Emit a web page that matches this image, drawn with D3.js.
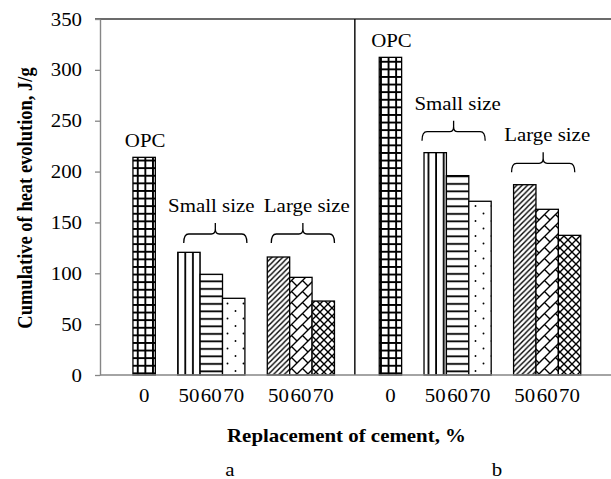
<!DOCTYPE html>
<html>
<head>
<meta charset="utf-8">
<script src="https://cdn.jsdelivr.net/npm/d3@7/dist/d3.min.js"></script>
<style>
  html, body { margin: 0; padding: 0; background: #fff; }
  svg { display: block; }
  text { font-family: "Liberation Serif", "Times New Roman", serif; fill: #000; }
</style>
</head>
<body>
<svg id="chart" width="611" height="479"></svg>
<script>
// ---------------- data ----------------
// Category slots as in the original spreadsheet (blank slots are spacers)
const tickLabels = ["0","","50","60","70","","50","60","70","",
                    "","0","","50","60","70","","50","60","70"];
const mixTypes   = ["OPC","","S50","S60","S70","","L50","L60","L70","",
                    "","OPC","","S50","S60","S70","","L50","L60","L70"];
const heatValues = [214,null,120.6,99,75.4,null,116,96,72.7,null,
                    null,312.3,null,218.6,196,170.8,null,187.1,162.9,137.3];
const yTicks = [0,50,100,150,200,250,300,350];
const panelLetters = ["a","b"];
const groupNames = ["Small size","Large size","Small size","Large size"];
const groupSlots = [[2,4],[6,8],[13,15],[17,19]];
const braceLevels = [138.6,138.6,239.2,208.1];   // J/g level of each brace
const opcSlots = [0,11];
const yTitle = "Cumulative of heat evolution, J/g";
const xTitle = "Replacement of cement, %";

// ---------------- layout ----------------
const W = 611, H = 479;
const plotL = 100, plotR = 611, plotT = 19, plotB = 375;
const SX = 1.13;           // horizontal text stretch of the reference
const FS = 18.5;
const groupTextShift = [0, 6, 0, 0];
const braceShift = [4, 2, -4, -4];

const svg = d3.select("#chart");

const y = d3.scaleLinear().domain([0,350]).range([plotB, plotT]);
const x = d3.scaleBand().domain(d3.range(tickLabels.length))
  .range([plotL + 32.95, plotL + 480.75]).paddingInner(0).paddingOuter(0);
const bw = x.bandwidth();

function txt(g, px, py, s, opt = {}) {
  return g.append("text")
    .attr("transform", `translate(${px},${py}) scale(${SX},1)` + (opt.rotate ? ` rotate(${opt.rotate})` : ""))
    .attr("text-anchor", opt.anchor || "middle")
    .attr("font-size", FS)
    .attr("font-weight", opt.bold ? "bold" : "normal")
    .text(s);
}

// ---------------- patterns ----------------
const defs = svg.append("defs");
function pat(id, w, h) {
  return defs.append("pattern").attr("id", id).attr("patternUnits", "userSpaceOnUse")
    .attr("width", w).attr("height", h);
}
{
  const p = pat("p-grid", 7.6, 7.6);
  p.append("rect").attr("width", 7.6).attr("height", 7.6).attr("fill", "#fff");
  p.append("rect").attr("x", 0).attr("y", 0).attr("width", 1.9).attr("height", 7.6).attr("fill", "#000");
  p.append("rect").attr("x", 0).attr("y", 0).attr("width", 7.6).attr("height", 1.9).attr("fill", "#000");
}
{
  const p = pat("p-vert", 7.6, 8);
  p.append("rect").attr("width", 7.6).attr("height", 8).attr("fill", "#fff");
  p.append("rect").attr("x", 2).attr("width", 1.8).attr("height", 8).attr("fill", "#000");
}
{
  const p = pat("p-horiz", 8, 7.5);
  p.append("rect").attr("width", 8).attr("height", 7.5).attr("fill", "#fff");
  p.append("rect").attr("y", 3).attr("width", 8).attr("height", 1.8).attr("fill", "#000");
}
{
  const p = pat("p-dots", 16, 15);
  p.append("rect").attr("width", 16).attr("height", 15).attr("fill", "#fff");
  p.append("circle").attr("cx", 3.5).attr("cy", 3.5).attr("r", 0.95).attr("fill", "#000");
  p.append("circle").attr("cx", 11.5).attr("cy", 11).attr("r", 0.95).attr("fill", "#000");
}
{
  const s = 5.4;
  const p = pat("p-diag", s, s);
  p.append("rect").attr("width", s).attr("height", s).attr("fill", "#fff");
  p.append("path").attr("d", `M0,${s} L${s},0 M${-s/2},${s/2} L${s/2},${-s/2} M${s/2},${s*1.5} L${s*1.5},${s/2}`)
    .attr("stroke", "#000").attr("stroke-width", 1.4);
}
{
  const s = 11;
  const p = pat("p-brick", s, s);
  p.append("rect").attr("width", s).attr("height", s).attr("fill", "#fff");
  p.append("path").attr("d", `M0,${s} L${s},0 M${-1},1 L1,-1 M${s-1},${s+1} L${s+1},${s-1} M${s/2},${s/2} L${s},${s}`)
    .attr("stroke", "#000").attr("stroke-width", 1.4);
}
{
  const s = 8;
  const p = pat("p-cross", s, s);
  p.append("rect").attr("width", s).attr("height", s).attr("fill", "#fff");
  p.append("path").attr("d", `M0,0 L${s},${s} M0,${s} L${s},0`)
    .attr("stroke", "#000").attr("stroke-width", 1.4);
}
const fillFor = { OPC: "p-grid", S50: "p-vert", S60: "p-horiz", S70: "p-dots",
                  L50: "p-diag", L60: "p-brick", L70: "p-cross" };

// ---------------- frame ----------------
const frame = svg.append("g");
frame.append("line").attr("x1", plotL - 5).attr("x2", plotR).attr("y1", y(350)).attr("y2", y(350))
  .attr("stroke", "#3a3a3a").attr("stroke-width", 1.3);

// ---------------- bars ----------------
const bars = svg.append("g");
const barData = heatValues.map((v, i) => ({ i, v, t: mixTypes[i] })).filter(d => d.v != null);
bars.selectAll("rect").data(barData).join("rect")
  .attr("x", d => x(d.i))
  .attr("y", d => y(d.v))
  .attr("width", bw)
  .attr("height", d => y(0) - y(d.v))
  .attr("fill", d => `url(#${fillFor[d.t]})`)
  .attr("stroke", "#000")
  .attr("stroke-width", 1.3);

// divider between panels a and b
svg.append("line").attr("x1", x(10) - 2).attr("x2", x(10) - 2)
  .attr("y1", y(350)).attr("y2", y(0)).attr("stroke", "#000").attr("stroke-width", 1.4);

// ---------------- axes ----------------
const yAxis = svg.append("g").attr("transform", `translate(${plotL},0)`)
  .call(d3.axisLeft(y).tickValues(yTicks).tickSize(5).tickSizeOuter(0));
yAxis.select(".domain").attr("stroke", "#868686").attr("stroke-width", 1.4);
yAxis.selectAll(".tick line").attr("stroke", "#868686").attr("stroke-width", 1.3);
yAxis.selectAll(".tick text")
  .attr("font-family", null).attr("font-size", FS)
  .attr("x", -18 / SX).attr("dy", "0.33em")
  .attr("transform", `scale(${SX},1)`);

svg.append("line").attr("x1", plotL).attr("x2", plotR).attr("y1", y(0)).attr("y2", y(0))
  .attr("stroke", "#868686").attr("stroke-width", 1.4);

const xAxis = svg.append("g").attr("transform", `translate(0,${y(0)})`)
  .call(d3.axisBottom(x).tickFormat(i => tickLabels[i]).tickSize(0).tickPadding(13.6));
xAxis.select(".domain").remove();
xAxis.selectAll(".tick text")
  .attr("font-family", null).attr("font-size", FS)
  .attr("transform", `scale(${SX},1)`);

// ---------------- annotations ----------------
const ann = svg.append("g");
opcSlots.forEach(i => {
  txt(ann, x(i) + bw / 2 + 1, y(heatValues[i]) - 10, "OPC");
});
groupSlots.forEach(([a, b], k) => {
  const x1 = x(a) + 2 + braceShift[k], x2 = x(b) + bw - 2 + braceShift[k];
  const cx = (x1 + x2) / 2, y0 = y(braceLevels[k]);
  const d = `M${x1},${y0 + 9} Q${x1},${y0} ${x1 + 5},${y0} L${cx - 4},${y0} Q${cx},${y0} ${cx},${y0 - 5} L${cx},${y0 - 11}` +
            ` M${cx},${y0 - 5} Q${cx},${y0} ${cx + 4},${y0} L${x2 - 5},${y0} Q${x2},${y0} ${x2},${y0 + 9}`;
  ann.append("path").attr("d", d).attr("fill", "none").attr("stroke", "#000").attr("stroke-width", 1.3);
  const gx = (x(a) + x(b) + bw) / 2 + groupTextShift[k];
  txt(ann, gx, y0 - 22, groupNames[k]);
});

// ---------------- titles ----------------
txt(svg, 32, (plotT + plotB) / 2 + 1, yTitle, { bold: true, rotate: -90 });
txt(svg, 346.5, 441.7, xTitle, { bold: true });
txt(svg, 230, 476, panelLetters[0]);
txt(svg, 497, 476, panelLetters[1]);
</script>
</body>
</html>
